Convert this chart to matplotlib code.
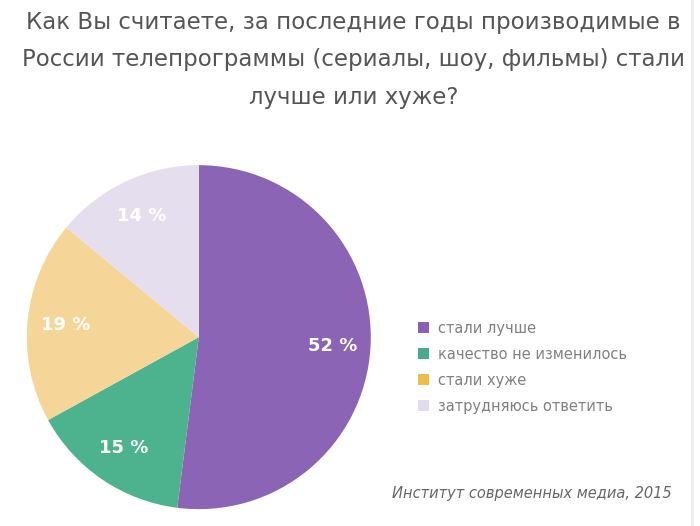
import matplotlib.pyplot as plt
from matplotlib.patches import Patch

title = ('Как Вы считаете, за последние годы производимые в\n'
         'России телепрограммы (сериалы, шоу, фильмы) стали\n'
         'лучше или хуже?')
labels = ['стали лучше', 'качество не изменилось', 'стали хуже', 'затрудняюсь ответить']
values = [52, 15, 19, 14]
pie_colors = ['#8c64b5', '#4db38e', '#f5d698', '#e5deef']
legend_colors = ['#8a5fb5', '#4aab8a', '#f0bd48', '#e2ddec']
source = 'Институт современных медиа, 2015'

fig = plt.figure(figsize=(7, 5.26), dpi=100)
ax = fig.add_axes([0.284 - 0.2457, 0.359 - 0.327, 0.4914, 0.654])

wedges, texts, autotexts = ax.pie(values, colors=pie_colors, startangle=90, counterclock=False,
                                  autopct=lambda p: '%d %%' % round(p), pctdistance=0.78,
                                  wedgeprops=dict(linewidth=0))
for t in autotexts:
    t.set_color('white')
    t.set_fontsize(13)
    t.set_fontweight('bold')
ax.set_xlim(-1, 1)
ax.set_ylim(-1, 1)
ax.set_aspect('equal')

fig.text(0.505, 0.98, title, ha='center', va='top', fontsize=16.5, color='#555555',
         linespacing=1.82)

handles = [Patch(facecolor=c, edgecolor='none') for c in legend_colors]
fig.legend(handles, labels, loc='center left', bbox_to_anchor=(0.578, 0.302), frameon=False,
           fontsize=10.5, labelcolor='#808080', handlelength=0.8, handleheight=0.8,
           handletextpad=0.6, labelspacing=0.75)

fig.text(0.96, 0.062, source, ha='right', va='center', fontsize=10.5, style='italic',
         color='#666666')

fig.add_artist(plt.Line2D([0.988, 0.988], [0, 1], color='#eeeeee', lw=2))

fig.savefig('out.png', dpi=100)
